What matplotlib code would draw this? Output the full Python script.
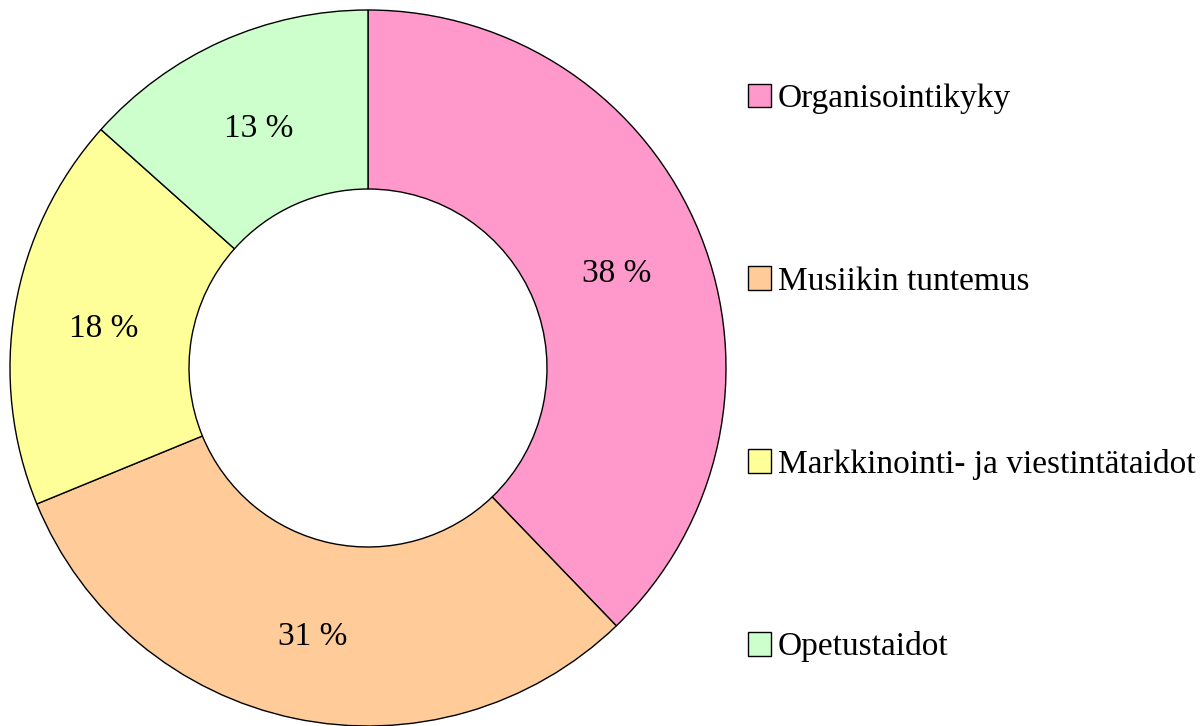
import matplotlib.pyplot as plt
from matplotlib.transforms import ScaledTranslation

labels = ['Organisointikyky', 'Musiikin tuntemus',
          'Markkinointi- ja viestintätaidot', 'Opetustaidot']
shares = [37.8, 31.0, 17.8, 13.4]
colors = ['#FF99CC', '#FFCC99', '#FFFF99', '#CCFFCC']

plt.rcParams['font.family'] = ['Liberation Serif', 'DejaVu Serif']

W, H = 1203, 726
fig = plt.figure(figsize=(W / 100, H / 100), dpi=100)
# pie centre at (368, 368) px, outer radius 358 px
cx, cy, r = 368, 368, 358
ax = fig.add_axes([(cx - r) / W, (H - cy - r) / H, 2 * r / W, 2 * r / H])

wedges, _, autotexts = ax.pie(
    shares, colors=colors, startangle=90, counterclock=False,
    autopct=lambda p: f'{p:.0f} %', pctdistance=0.75,
    wedgeprops=dict(width=0.5, edgecolor='black', linewidth=1.0),
    textprops=dict(fontsize=24, color='black'))
ax.set_xlim(-1, 1)
ax.set_ylim(-1, 1)
ax.set_aspect('equal')

# nudge the percent labels down a little
for t in autotexts:
    t.set_transform(t.get_transform() + ScaledTranslation(0, -0.06, fig.dpi_scale_trans))

leg = fig.legend(wedges, labels, loc='center left',
                 bbox_to_anchor=(748 / W, 1 - 373 / H),
                 frameon=False, fontsize=24,
                 handlelength=0.7, handleheight=0.7, handletextpad=0.2,
                 labelspacing=4.56, borderpad=0, borderaxespad=0)

fig.savefig('out.png', dpi=100)
